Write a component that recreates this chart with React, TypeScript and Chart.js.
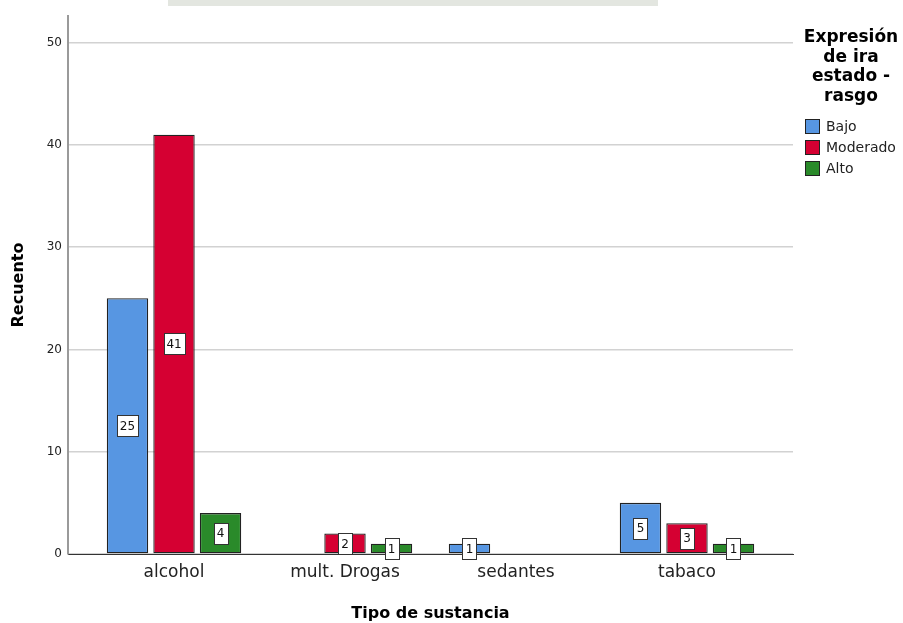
import React, { useEffect, useRef } from 'react';
import { Chart, registerables, CategoryScale } from 'chart.js';

// ---- data ----
const categories = ['alcohol', 'mult. Drogas', 'sedantes', 'tabaco'];
const seriesNames = ['Bajo', 'Moderado', 'Alto'];
const bajo = [25, null, 1, 5];
const moderado = [41, 2, null, 3];
const alto = [4, 1, null, 1];
const yTickValues = [0, 10, 20, 30, 40, 50];
const yMax = 52.6;
const legendTitle = ['Expresión', 'de ira', 'estado -', 'rasgo'];
const xTitle = 'Tipo de sustancia';
const yTitle = 'Recuento';

const colors = ['#5796e2', '#d50032', '#2a8a2a'];
const FONT = "'DejaVu Sans', sans-serif";

class PaddedCategoryScale extends (CategoryScale as any) {
  static id = 'paddedCategory';
  static defaults = (CategoryScale as any).defaults;
  buildTicks() {
    const ticks = super.buildTicks();
    const pad = (this as any).options.edgePad ?? 0;
    (this as any)._startValue -= pad;
    (this as any)._valueRange += 2 * pad;
    return ticks;
  }
}

Chart.register(...registerables, PaddedCategoryScale as any);

const watermarkPlugin = {
  id: 'watermarkBand',
  beforeDraw(chart: any) {
    const ctx = chart.ctx;
    ctx.save();
    ctx.fillStyle = '#e3e6e0';
    ctx.fillRect(168, 0, 490, 6);
    ctx.restore();
  },
};

const valueLabelPlugin = {
  id: 'valueLabels',
  afterDatasetsDraw(chart: any) {
    const ctx = chart.ctx;
    ctx.save();
    ctx.font = `12px ${FONT}`;
    ctx.textAlign = 'center';
    ctx.textBaseline = 'middle';
    chart.data.datasets.forEach((ds: any, di: number) => {
      const meta = chart.getDatasetMeta(di);
      meta.data.forEach((el: any, i: number) => {
        const v = ds.data[i];
        if (v === null || v === undefined) return;
        const cx = el.x;
        const cy = (el.y + el.base) / 2;
        const txt = String(v);
        const w = Math.round(ctx.measureText(txt).width) + 6;
        const h = 21;
        const x0 = Math.round(cx - w / 2) + 0.5;
        const y0 = Math.round(cy - h / 2) + 0.5;
        ctx.fillStyle = '#ffffff';
        ctx.fillRect(x0, y0, w, h);
        ctx.strokeStyle = '#333333';
        ctx.lineWidth = 1;
        ctx.strokeRect(x0, y0, w, h);
        ctx.fillStyle = '#111111';
        ctx.fillText(txt, cx, cy + 1);
      });
    });
    ctx.restore();
  },
};

const legendPlugin = {
  id: 'customLegend',
  afterDraw(chart: any) {
    const ctx = chart.ctx;
    ctx.save();
    ctx.fillStyle = '#000000';
    ctx.font = `bold 17px ${FONT}`;
    ctx.textAlign = 'center';
    ctx.textBaseline = 'alphabetic';
    legendTitle.forEach((line, i) => {
      ctx.fillText(line, 851, 42 + i * 19.7);
    });
    ctx.font = `14px ${FONT}`;
    ctx.textAlign = 'left';
    ctx.textBaseline = 'middle';
    chart.data.datasets.forEach((ds: any, i: number) => {
      const y = 119 + i * 21;
      ctx.fillStyle = ds.backgroundColor;
      ctx.fillRect(805, y, 15, 15);
      ctx.strokeStyle = '#222222';
      ctx.lineWidth = 1;
      ctx.strokeRect(805.5, y + 0.5, 14, 14);
      ctx.fillStyle = '#222222';
      ctx.fillText(ds.label, 826, y + 8);
    });
    ctx.restore();
  },
};

export default function App() {
  const canvasRef = useRef<HTMLCanvasElement | null>(null);

  useEffect(() => {
    if (!canvasRef.current) return;
    const series = [bajo, moderado, alto];
    const chart = new Chart(canvasRef.current, {
      type: 'bar',
      data: {
        labels: categories,
        datasets: series.map((d, i) => ({
          label: seriesNames[i],
          data: d,
          backgroundColor: colors[i],
          borderColor: '#222222',
          borderWidth: 1.3,
          borderSkipped: false,
          categoryPercentage: 0.816,
          barPercentage: 0.89,
        })),
      },
      options: {
        responsive: false,
        animation: false,
        devicePixelRatio: 1,
        layout: { padding: { top: 16, right: 110, left: 0, bottom: 0 } },
        plugins: {
          legend: { display: false },
          tooltip: { enabled: false },
        },
        scales: {
          x: {
            type: 'paddedCategory' as any,
            edgePad: 0.12,
            offset: true,
            grid: { display: false, drawTicks: false },
            border: { display: true, color: '#333333', width: 1 },
            ticks: {
              color: '#222222',
              font: { family: FONT, size: 17 },
              padding: 8,
              maxRotation: 0,
            },
            title: {
              display: true,
              text: xTitle,
              color: '#000000',
              font: { family: FONT, size: 16, weight: 'bold' },
              padding: { top: 0, bottom: 0 },
            },
            afterFit(scale: any) {
              scale.height = 69;
            },
          } as any,
          y: {
            min: 0,
            max: yMax,
            afterBuildTicks(scale: any) {
              scale.ticks = yTickValues.map((v) => ({ value: v }));
            },
            grid: {
              color: '#d2d2d2',
              lineWidth: 1.5,
              drawTicks: false,
              tickLength: 0,
            },
            border: { display: true, color: '#9a9a9a', width: 2 },
            ticks: {
              color: '#222222',
              font: { family: FONT, size: 12 },
              padding: 6,
            },
            title: {
              display: true,
              text: yTitle,
              color: '#000000',
              font: { family: FONT, size: 16, weight: 'bold' },
              padding: { top: 9, bottom: 0 },
            },
            afterFit(scale: any) {
              scale.width = 68;
            },
          } as any,
        },
      },
      plugins: [watermarkPlugin, valueLabelPlugin, legendPlugin],
    });
    return () => chart.destroy();
  }, []);

  return (
    <div style={{ position: 'absolute', left: 0, top: 0, width: 903, height: 623, background: '#ffffff' }}>
      <canvas ref={canvasRef} width={903} height={623} style={{ display: 'block', width: 903, height: 623 }} />
    </div>
  );
}
